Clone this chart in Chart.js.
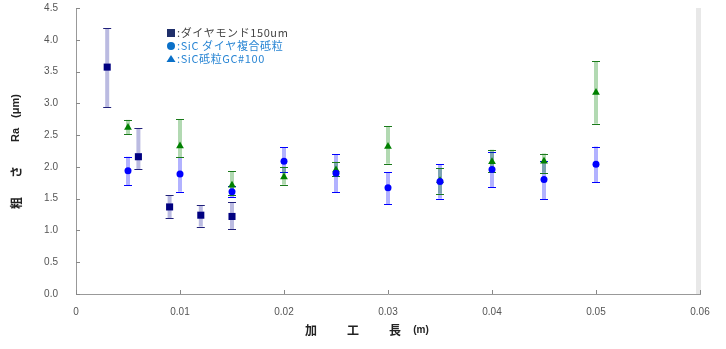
<!DOCTYPE html>
<html>
<head>
<meta charset="utf-8">
<script src="https://cdn.jsdelivr.net/npm/chart.js@4/dist/chart.umd.min.js"></script>
<style>
  body { margin: 0; background: #fff; }
  #c { display: block; }
</style>
</head>
<body>
<canvas id="c" width="726" height="349" style="width:726px;height:349px"></canvas>
<script>
// 加工長 (m)
const xDia = [0.003, 0.006, 0.009, 0.012, 0.015];
const xSic = [0.005, 0.01, 0.015, 0.02, 0.025, 0.03, 0.035, 0.04, 0.045, 0.05];

// ダイヤモンド150um
const raDia = [3.57, 2.16, 1.37, 1.24, 1.22];
const hiDia = [4.18, 2.61, 1.55, 1.40, 1.44];
const loDia = [2.94, 1.96, 1.19, 1.06, 1.02];

// SiC ダイヤ複合砥粒
const raComp = [1.94, 1.89, 1.61, 2.09, 1.90, 1.67, 1.77, 1.96, 1.80, 2.04];
const hiComp = [2.16, 2.15, 1.70, 2.31, 2.20, 1.92, 2.04, 2.24, 2.10, 2.32];
const loComp = [1.71, 1.61, 1.52, 1.92, 1.60, 1.41, 1.50, 1.68, 1.49, 1.76];

// SiC砥粒GC#100
const raGc = [2.62, 2.33, 1.71, 1.84, 1.95, 2.32, 1.78, 2.08, 2.09, 3.17];
const hiGc = [2.74, 2.75, 1.93, 2.00, 2.08, 2.64, 1.98, 2.27, 2.21, 3.66];
const loGc = [2.51, 2.15, 1.56, 1.72, 1.85, 2.05, 1.58, 1.92, 1.91, 2.68];

const seriesNames = [':ダイヤモンド150um', ':SiC ダイヤ複合砥粒', ':SiC砥粒GC#100'];
const xTitleChars = ['加', '工', '長'];
const xUnit = '(m)';
const yTitleParts = ['粗', 'さ', 'Ra', '(μm)'];

const pts = (xs, ys) => xs.map((x, i) => ({ x: x, y: ys[i] }));

const errs = [
  { lo: loDia, hi: hiDia, bar: 'rgba(60,60,170,0.35)', cap: '#20207a' },
  { lo: loComp, hi: hiComp, bar: 'rgba(0,0,255,0.3)', cap: '#0000ff' },
  { lo: loGc, hi: hiGc, bar: 'rgba(0,128,0,0.3)', cap: '#1a7a1a' }
];
const legendMarks = [
  { shape: 'rect', color: '#1f2f6a', text: '#444' },
  { shape: 'circle', color: '#0a70c8', text: '#2a86d4' },
  { shape: 'triangle', color: '#0a70c8', text: '#2a86d4' }
];

const extras = {
  id: 'extras',
  beforeDatasetsDraw(chart) {
    const ctx = chart.ctx;
    const ys = chart.scales.y;
    chart.data.datasets.forEach((ds, di) => {
      const meta = chart.getDatasetMeta(di);
      const e = errs[di];
      meta.data.forEach((p, i) => {
        const top = ys.getPixelForValue(e.hi[i]);
        const bot = ys.getPixelForValue(e.lo[i]);
        ctx.save();
        ctx.fillStyle = e.bar;
        ctx.fillRect(p.x - 2, top, 4, bot - top);
        ctx.strokeStyle = e.cap;
        ctx.lineWidth = 1;
        ctx.beginPath();
        ctx.moveTo(p.x - 4, Math.round(top) + 0.5);
        ctx.lineTo(p.x + 4, Math.round(top) + 0.5);
        ctx.moveTo(p.x - 4, Math.round(bot) + 0.5);
        ctx.lineTo(p.x + 4, Math.round(bot) + 0.5);
        ctx.stroke();
        ctx.restore();
      });
    });
  },
  afterDraw(chart) {
    const ctx = chart.ctx;
    const a = chart.chartArea;
    const xs = chart.scales.x, ys = chart.scales.y;
    ctx.save();
    // right gray edge
    ctx.fillStyle = '#e8e8e8';
    ctx.fillRect(a.right - 4, a.top, 5, a.bottom - a.top);
    // inner tick marks
    ctx.strokeStyle = '#888';
    ctx.lineWidth = 1;
    ctx.beginPath();
    ys.ticks.forEach(t => {
      const y = Math.round(ys.getPixelForValue(t.value)) + 0.5;
      ctx.moveTo(a.left, y); ctx.lineTo(a.left + 4, y);
    });
    xs.ticks.forEach(t => {
      const x = Math.round(xs.getPixelForValue(t.value)) + 0.5;
      ctx.moveTo(x, a.bottom); ctx.lineTo(x, a.bottom - 4);
    });
    ctx.stroke();

    // axis titles
    ctx.fillStyle = '#222';
    ctx.textBaseline = 'middle';
    ctx.textAlign = 'center';
    ctx.font = 'bold 12px "Noto Sans CJK JP"';
    xTitleChars.forEach((ch, i) => ctx.fillText(ch, 311 + i * 42, 330));
    ctx.font = 'bold 10px "Liberation Sans"';
    ctx.fillText(xUnit, 421, 330);

    ctx.translate(16, 0);
    ctx.rotate(-Math.PI / 2);
    const yPos = [203, 172, 135, 106];
    yTitleParts.forEach((s, i) => {
      ctx.font = i < 2 ? 'bold 12px "Noto Sans CJK JP"' : 'bold 11px "Liberation Sans"';
      ctx.fillText(s, -yPos[i], 0);
    });
    ctx.restore();

    // legend
    ctx.save();
    ctx.font = '11px "Noto Sans CJK JP"';
    ctx.letterSpacing = '0.6px';
    ctx.textBaseline = 'middle';
    ctx.textAlign = 'left';
    seriesNames.forEach((name, i) => {
      const m = legendMarks[i];
      const y = 33 + i * 13;
      const x = 171;
      ctx.fillStyle = m.color;
      ctx.beginPath();
      if (m.shape === 'rect') ctx.rect(x - 4, y - 4, 8, 8);
      else if (m.shape === 'circle') ctx.arc(x, y, 4, 0, Math.PI * 2);
      else { ctx.moveTo(x, y - 4); ctx.lineTo(x + 4.5, y + 3); ctx.lineTo(x - 4.5, y + 3); ctx.closePath(); }
      ctx.fill();
      ctx.fillStyle = m.text;
      ctx.fillText(name, x + 6, y);
    });
    ctx.restore();
  }
};

new Chart(document.getElementById('c'), {
  type: 'scatter',
  data: {
    datasets: [
      { label: seriesNames[0], data: pts(xDia, raDia), pointStyle: 'rect', pointRadius: 5,
        backgroundColor: '#000080', borderColor: '#000080', borderWidth: 0 },
      { label: seriesNames[1], data: pts(xSic, raComp), pointStyle: 'circle', pointRadius: 3.5,
        backgroundColor: '#0000ff', borderColor: '#0000ff', borderWidth: 0 },
      { label: seriesNames[2], data: pts(xSic, raGc), pointStyle: 'triangle', pointRadius: 4.5,
        backgroundColor: '#008000', borderColor: '#008000', borderWidth: 0 }
    ]
  },
  options: {
    responsive: false,
    animation: false,
    devicePixelRatio: 1,
    layout: { padding: { top: 8, right: 26, left: 0, bottom: 0 } },
    plugins: { legend: { display: false }, tooltip: { enabled: false } },
    scales: {
      x: {
        type: 'linear', min: 0, max: 0.06,
        afterFit(s) { s.height = 55; },
        ticks: {
          stepSize: 0.01, padding: 12, color: '#555',
          font: { family: 'Liberation Sans', size: 10 },
          callback: v => v === 0 ? '0' : v.toFixed(2)
        },
        grid: { drawOnChartArea: false, drawTicks: false },
        border: { color: '#999', width: 1 }
      },
      y: {
        min: 0, max: 4.5,
        afterFit(s) { s.width = 76; s.paddingTop = 0; s.paddingBottom = 0; },
        ticks: {
          stepSize: 0.5, padding: 18, color: '#555',
          font: { family: 'Liberation Sans', size: 10 },
          callback: v => v.toFixed(1)
        },
        grid: { drawOnChartArea: false, drawTicks: false },
        border: { color: '#999', width: 1 }
      }
    }
  },
  plugins: [extras]
});
</script>
</body>
</html>
